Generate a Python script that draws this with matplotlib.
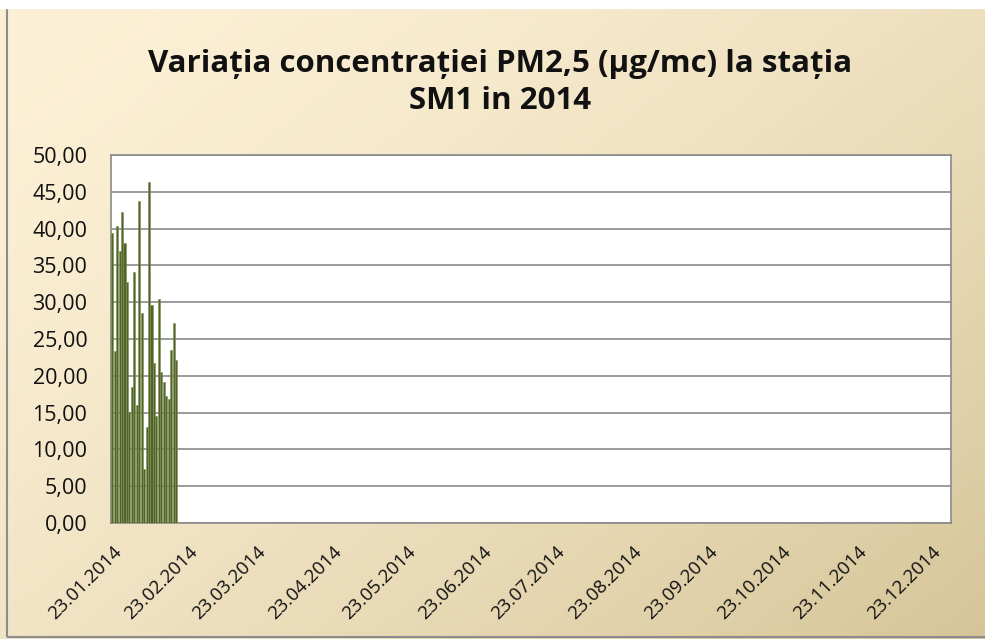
import numpy as np
import pandas as pd
import matplotlib
matplotlib.use("Agg")
import matplotlib.pyplot as plt
import matplotlib.dates as mdates
from matplotlib.patches import Rectangle

# PM2.5 zilnic, SM1, din 23.01.2014
pm25 = [39.4, 23.4, 40.3, 37.0, 42.2, 38.0, 32.8, 15.1, 18.5, 34.1,
        16.0, 43.7, 28.6, 7.3, 13.1, 46.4, 29.6, 21.8, 14.5, 30.5,
        20.5, 19.1, 17.3, 16.9, 23.5, 27.2, 22.1]
start = "2014-01-23"
tick_labels = ["23.01.2014", "23.02.2014", "23.03.2014", "23.04.2014",
               "23.05.2014", "23.06.2014", "23.07.2014", "23.08.2014",
               "23.09.2014", "23.10.2014", "23.11.2014", "23.12.2014"]
yticks = [0, 5, 10, 15, 20, 25, 30, 35, 40, 45, 50]

dates = pd.date_range(start, periods=len(pm25), freq="D")
tick_dates = pd.to_datetime(tick_labels, format="%d.%m.%Y")

fig = plt.figure(figsize=(9.85, 6.39), dpi=100)

# fundal cu gradient
bg = fig.add_axes([0, 0, 1, 1], zorder=-10)
xx, yy = np.meshgrid(np.linspace(0, 1, 300), np.linspace(0, 1, 200))
t = np.clip((xx * 0.55 + yy * 0.45), 0, 1) ** 1.6
c0 = np.array([252, 240, 214]) / 255
c1 = np.array([214, 197, 152]) / 255
img = c0[None, None, :] * (1 - t[..., None]) + c1[None, None, :] * t[..., None]
bg.imshow(img, aspect="auto", extent=[0, 1, 0, 1], origin="upper")
bg.set_xlim(0, 1)
bg.set_ylim(0, 1)
bg.axis("off")
bg.add_patch(Rectangle((0.007, 0.003), 1.2, 0.984, fill=False,
                       edgecolor="#8c8c8c", lw=1.5, transform=bg.transAxes))
bg.add_patch(Rectangle((0, 0.987), 1, 0.02, color="white", transform=bg.transAxes))

ax = fig.add_axes([0.1127, 0.1815, 0.8528, 0.5759])
ax.set_facecolor("white")
ax.bar(dates, pm25, width=0.85, color="#526529", edgecolor="#7d8f55",
       linewidth=0.4, zorder=3)

ax.set_xlim(mdates.date2num(pd.Timestamp(start)) - 0.5,
            mdates.date2num(pd.Timestamp("2014-12-31")))
ax.set_ylim(0, 50)
ax.set_yticks(yticks)
ax.set_yticklabels([f"{v:.2f}".replace(".", ",") for v in yticks],
                   fontsize=15.5, family="Open Sans", color="#111111")
ax.yaxis.grid(True, color="#8a8a8a", lw=1.2, zorder=0)
ax.set_axisbelow(True)

ax.set_xticks(tick_dates)
ax.set_xticklabels(tick_labels, rotation=45, ha="right", rotation_mode="anchor",
                   fontsize=13.5, family="Open Sans", color="#111111")
ax.tick_params(axis="y", length=0, pad=17)
ax.tick_params(axis="x", length=0, pad=14)

for s in ax.spines.values():
    s.set_color("#8a8a8a")
    s.set_linewidth(1.2)

fig.text(0.508, 0.900, "Variația concentrației PM2,5 (µg/mc) la stația",
         ha="center", va="center", fontsize=22.5, fontweight="bold",
         family="Open Sans", color="#111111")
fig.text(0.508, 0.842, "SM1 in 2014",
         ha="center", va="center", fontsize=22.5, fontweight="bold",
         family="Open Sans", color="#111111")

fig.savefig("out.png", dpi=100)
